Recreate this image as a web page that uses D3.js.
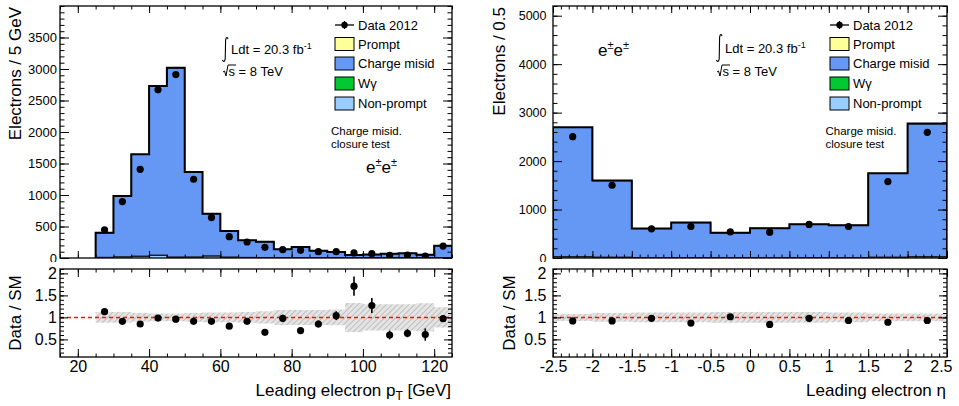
<!DOCTYPE html>
<html><head><meta charset="utf-8">
<script src="https://cdn.jsdelivr.net/npm/d3@7"></script>
<style>
body{margin:0;background:#fff}
svg{display:block}
text{font-family:"Liberation Sans",Arial,Helvetica,sans-serif;fill:#000}
</style>
</head><body>
<svg id="c" width="959" height="406"></svg>
<script>
// ---------------- DATA ----------------
// Leading electron pT (GeV), bins of 5 GeV (lower edges)
const ptBins = [25,30,35,40,45,50,55,60,65,70,75,80,85,90,95,100,105,110,115,120];
const ptNonPrompt   = [8,15,25,40,10,12,30,12,8,6,5,5,4,4,3,3,3,3,3,5];
const ptWgamma      = [3,4,5,6,6,4,3,2,2,2,1,1,1,1,1,1,1,1,1,2];
const ptChargeMisid = [387,963,1613,2681,2997,1347,669,413,270,250,131,168,110,89,42,49,64,69,47,187];
const ptPrompt      = [2,3,4,5,5,3,2,2,1,1,1,1,1,1,1,1,1,1,1,2];
const ptData        = [445,895,1408,2669,2912,1250,641,339,254,169,132,122,101,101,80,68,42,48,32,190];
const ptRatio       = [1.13,0.91,0.85,0.985,0.96,0.91,0.91,0.80,0.91,0.66,0.98,0.70,0.85,1.04,1.71,1.27,0.60,0.64,0.61,0.97];
const ptRatioErr    = [0.03,0.03,0.025,0.02,0.02,0.03,0.04,0.05,0.05,0.05,0.08,0.06,0.08,0.10,0.22,0.17,0.10,0.09,0.14,0.06];
const ptBandErr     = [0.12,0.12,0.10,0.09,0.09,0.10,0.11,0.11,0.12,0.14,0.17,0.17,0.17,0.18,0.33,0.30,0.30,0.30,0.32,0.23];

// Leading electron eta, bins of 0.5 (lower edges)
const etaBins = [-2.5,-2,-1.5,-1,-0.5,0,0.5,1,1.5,2];
const etaNonPrompt   = [20,12,6,6,5,5,6,6,12,20];
const etaWgamma      = [10,6,3,3,3,3,3,3,6,10];
const etaChargeMisid = [2662,1575,597,718,509,606,686,666,1727,2735];
const etaPrompt      = [8,5,3,3,2,2,3,3,5,8];
const etaData        = [2504,1501,602,650,539,533,692,650,1577,2594];
const etaRatio       = [0.92,0.92,0.98,0.87,1.015,0.84,0.98,0.93,0.89,0.93];
const etaRatioErr    = [0.02,0.025,0.04,0.04,0.04,0.04,0.04,0.04,0.025,0.02];
const etaBandErr     = [0.08,0.10,0.11,0.11,0.12,0.12,0.12,0.11,0.09,0.09];

const legendLabels = ["Data 2012","Prompt","Charge misid","W\u03b3","Non-prompt"];
const sampleColors = {prompt:"#ffff99", misid:"#6597f5", wgamma:"#00c832", nonprompt:"#99ccff"};

// ---------------- DRAW ----------------
const svg = d3.select("#c");
const defs = svg.append("defs");
const pat = defs.append("pattern").attr("id","hatch").attr("patternUnits","userSpaceOnUse")
  .attr("width",4).attr("height",4).attr("patternTransform","rotate(45)");
pat.append("rect").attr("width",4).attr("height",4).attr("fill","#e4e4e4");
pat.append("line").attr("x1",0).attr("y1",0).attr("x2",0).attr("y2",4).attr("stroke","#9a9a9a").attr("stroke-width",1);

const hyphenFmt = f => (v => f(v).replace("\u2212","-"));

function inwardAxis(g, axisFn, scale, majors, minors, majLen, minLen, fmt, pad, fontSize) {
  const a = g.append("g");
  a.call(axisFn(scale).tickValues(minors).tickSize(-minLen).tickFormat(""));
  a.append("g").call(axisFn(scale).tickValues(majors).tickSize(-majLen).tickPadding(pad).tickFormat(fmt || ""));
  a.selectAll(".domain").remove();
  a.selectAll("line").attr("stroke","#000").attr("stroke-width",1);
  a.selectAll("text").attr("font-size",fontSize).attr("font-family","Liberation Sans, Arial, sans-serif").attr("fill","#000");
  return a;
}

function range(a,b,s){const r=[];for(let v=a;v<=b+1e-9;v+=s)r.push(+v.toFixed(6));return r;}

function drawPanel(cfg) {
  const g = svg.append("g");
  const x = d3.scaleLinear().domain(cfg.xDomain).range([cfg.x0, cfg.x1]);
  const y = d3.scaleLinear().domain(cfg.yDomain).range([cfg.yBot, cfg.yTop]);
  const yr = d3.scaleLinear().domain([0.1,2.1]).range([cfg.rBot, cfg.rTop]);
  const n = cfg.bins.length, w = cfg.w;

  const clipId = "clip"+cfg.id, clipR = "clipr"+cfg.id;
  defs.append("clipPath").attr("id",clipId).append("rect")
    .attr("x",cfg.x0).attr("y",cfg.yTop).attr("width",cfg.x1-cfg.x0).attr("height",cfg.yBot-cfg.yTop);
  defs.append("clipPath").attr("id",clipR).append("rect")
    .attr("x",cfg.x0).attr("y",cfg.rTop).attr("width",cfg.x1-cfg.x0).attr("height",cfg.rBot-cfg.rTop);

  // ---- stacked histogram ----
  const layers = [
    {v:cfg.nonprompt, c:sampleColors.nonprompt},
    {v:cfg.wgamma, c:sampleColors.wgamma},
    {v:cfg.misid, c:sampleColors.misid},
    {v:cfg.prompt, c:sampleColors.prompt}
  ];
  let cum = new Array(n).fill(0);
  const stacks = layers.map(L => {
    const lo = cum.slice(); cum = cum.map((c,i)=>c+L.v[i]);
    return {lo, hi:cum.slice(), c:L.c};
  });
  const hg = g.append("g").attr("clip-path",`url(#${clipId})`);
  const area = d3.area().x(d=>x(d.x)).y0(d=>y(d.lo)).y1(d=>y(d.hi)).curve(d3.curveStepAfter);
  const line = d3.line().x(d=>x(d.x)).y(d=>y(d.v)).curve(d3.curveStepAfter);
  const ptsOf = s => {
    const p = cfg.bins.map((b,i)=>({x:b, lo:s.lo[i], hi:s.hi[i]}));
    p.push({x:cfg.bins[n-1]+w, lo:s.lo[n-1], hi:s.hi[n-1]});
    return p;
  };
  stacks.forEach(s => hg.append("path").attr("d",area(ptsOf(s))).attr("fill",s.c).attr("stroke","none"));
  stacks.forEach((s,k) => {
    const p = [{x:cfg.bins[0], v:0}].concat(cfg.bins.map((b,i)=>({x:b, v:s.hi[i]})));
    p.push({x:cfg.bins[n-1]+w, v:s.hi[n-1]});
    p.push({x:cfg.bins[n-1]+w, v:0});
    const top = k===stacks.length-1;
    hg.append("path").attr("d",line(p)).attr("fill","none")
      .attr("stroke", top ? "#000" : "#1a1a1a").attr("stroke-width", top ? 2 : 1);
  });
  // data points
  hg.selectAll("circle.d").data(cfg.data).join("circle")
    .attr("cx",(d,i)=>x(cfg.bins[i]+w/2)).attr("cy",d=>y(d)).attr("r",3.6).attr("fill","#000");

  // top frame axes
  inwardAxis(g, d3.axisBottom, x, cfg.xMajor, cfg.xMinor, 7, 3.5, null, 0, 1).attr("transform",`translate(0,${cfg.yBot})`);
  inwardAxis(g, d3.axisTop, x, cfg.xMajor, cfg.xMinor, 7, 3.5, null, 0, 1).attr("transform",`translate(0,${cfg.yTop})`);
  inwardAxis(g, d3.axisLeft, y, cfg.yMajor, cfg.yMinor, 9, 4.5, d3.format("d"), cfg.yPad, cfg.yFont).attr("transform",`translate(${cfg.x0},0)`);
  inwardAxis(g, d3.axisRight, y, cfg.yMajor, cfg.yMinor, 9, 4.5, null, 0, 1).attr("transform",`translate(${cfg.x1},0)`);
  g.append("rect").attr("x",cfg.x0).attr("y",cfg.yTop).attr("width",cfg.x1-cfg.x0).attr("height",cfg.yBot-cfg.yTop)
    .attr("fill","none").attr("stroke","#000").attr("stroke-width",1.3);

  // white ratio pad background (covers bottom of "0" label)
  g.append("rect").attr("x",cfg.padX0).attr("y",262).attr("width",cfg.padX1-cfg.padX0).attr("height",406-262).attr("fill","#fff");

  // ---- ratio panel ----
  const rg = g.append("g").attr("clip-path",`url(#${clipR})`);
  const bandPts = cfg.bins.map((b,i)=>({x:b, lo:1-cfg.band[i], hi:1+cfg.band[i]}));
  bandPts.push({x:cfg.bins[n-1]+w, lo:1-cfg.band[n-1], hi:1+cfg.band[n-1]});
  rg.append("path").attr("d", d3.area().x(d=>x(d.x)).y0(d=>yr(d.lo)).y1(d=>yr(d.hi)).curve(d3.curveStepAfter)(bandPts))
    .attr("fill","url(#hatch)");
  rg.append("line").attr("x1",cfg.x0).attr("x2",cfg.x1).attr("y1",yr(1)).attr("y2",yr(1))
    .attr("stroke","#ff1010").attr("stroke-width",1.5).attr("stroke-dasharray","4,3");
  rg.selectAll("line.e").data(cfg.ratio).join("line").attr("class","e")
    .attr("x1",(d,i)=>x(cfg.bins[i]+w/2)).attr("x2",(d,i)=>x(cfg.bins[i]+w/2))
    .attr("y1",(d,i)=>yr(d-cfg.ratioErr[i])).attr("y2",(d,i)=>yr(d+cfg.ratioErr[i]))
    .attr("stroke","#000").attr("stroke-width",1.6);
  rg.selectAll("circle.r").data(cfg.ratio).join("circle").attr("class","r")
    .attr("cx",(d,i)=>x(cfg.bins[i]+w/2)).attr("cy",d=>yr(d)).attr("r",3.6).attr("fill","#000");

  const ax = inwardAxis(g, d3.axisBottom, x, cfg.xMajor, cfg.xMinor, 8, 3.5, cfg.xFmt, 4, 16).attr("transform",`translate(0,${cfg.rBot})`);
  if (cfg.lastLabelEnd) {
    const ts = ax.selectAll("text").nodes();
    const last = d3.select(ts[ts.length-1]);
    last.attr("text-anchor","end").attr("x", cfg.lastLabelEnd - (x(cfg.xMajor[cfg.xMajor.length-1])));
  }
  inwardAxis(g, d3.axisTop, x, cfg.xMajor, cfg.xMinor, 8, 3.5, null, 0, 1).attr("transform",`translate(0,${cfg.rTop})`);
  const rMaj=[0.5,1,1.5,2], rMin=range(0.2,2.1,0.1);
  inwardAxis(g, d3.axisLeft, yr, rMaj, rMin, 8, 4, d3.format("~g"), cfg.yPad, 16).attr("transform",`translate(${cfg.x0},0)`);
  inwardAxis(g, d3.axisRight, yr, rMaj, rMin, 8, 4, null, 0, 1).attr("transform",`translate(${cfg.x1},0)`);
  g.append("rect").attr("x",cfg.x0).attr("y",cfg.rTop).attr("width",cfg.x1-cfg.x0).attr("height",cfg.rBot-cfg.rTop)
    .attr("fill","none").attr("stroke","#000").attr("stroke-width",1.3);

  // ---- axis titles ----
  g.append("text").attr("transform",`translate(${cfg.yTitleX},${cfg.yTop+1}) rotate(-90)`)
    .attr("text-anchor","end").attr("dominant-baseline","central").attr("font-size",17).text(cfg.yTitle);
  g.append("text").attr("transform",`translate(${cfg.rTitleX},${(cfg.rTop+cfg.rBot)/2}) rotate(-90)`)
    .attr("text-anchor","middle").attr("dominant-baseline","central").attr("font-size",17).text("Data / SM");
  const xt = g.append("text").attr("x",cfg.x1-1).attr("y",396).attr("text-anchor","end").attr("font-size",17);
  cfg.xTitle(xt);

  // ---- legend ----
  const lx = cfg.legX, rows = [25,44,63.5,83.5,103.5];
  const lg = g.append("g");
  lg.append("line").attr("x1",lx).attr("x2",lx+19).attr("y1",rows[0]).attr("y2",rows[0]).attr("stroke","#000").attr("stroke-width",1.3);
  lg.append("line").attr("x1",lx+9.5).attr("x2",lx+9.5).attr("y1",rows[0]-4).attr("y2",rows[0]+4).attr("stroke","#000").attr("stroke-width",1.3);
  lg.append("circle").attr("cx",lx+9.5).attr("cy",rows[0]).attr("r",3.2).attr("fill","#000");
  const boxCols = [sampleColors.prompt, sampleColors.misid, sampleColors.wgamma, sampleColors.nonprompt];
  boxCols.forEach((c,i)=>{
    lg.append("rect").attr("x",lx).attr("y",rows[i+1]-6.5).attr("width",19).attr("height",13)
      .attr("fill",c).attr("stroke","#000").attr("stroke-width",1);
  });
  legendLabels.forEach((t,i)=>{
    lg.append("text").attr("x",lx+23).attr("y",rows[i]+4.7).attr("font-size",13).text(t);
  });

  // ---- luminosity ----
  const ix = cfg.intX, iy = cfg.intY;
  g.append("path").attr("d",`M${ix+6},${iy+2} Q${ix+5.5},${iy} ${ix+4.2},${iy+1} L${ix+3.6},${iy+3} L${ix+3.2},${iy+cfg.intH-3} L${ix+2.6},${iy+cfg.intH-1} Q${ix+1.4},${iy+cfg.intH} ${ix+0.4},${iy+cfg.intH-2}`)
    .attr("fill","none").attr("stroke","#000").attr("stroke-width",1.1);
  const lt = g.append("text").attr("x",ix+9).attr("y",cfg.lumiY).attr("font-size",13);
  lt.append("tspan").text("Ldt = 20.3 fb");
  lt.append("tspan").attr("font-size",9).attr("dy",-5).text("-1");
  const sx = cfg.sqrtX, sy = cfg.sqrtY;
  g.append("path").attr("d",`M${sx},${sy-4} L${sx+1.5},${sy-5} L${sx+3},${sy} L${sx+5},${sy-11} L${sx+13},${sy-11}`)
    .attr("fill","none").attr("stroke","#000").attr("stroke-width",1);
  g.append("text").attr("x",sx+5.5).attr("y",sy).attr("font-size",13).text("s = 8 TeV");

  // ---- labels ----
  g.append("text").attr("x",cfg.cmX).attr("y",cfg.cmY).attr("font-size",11.5).text("Charge misid.");
  g.append("text").attr("x",cfg.cmX).attr("y",cfg.cmY+13.4).attr("font-size",11.5).text("closure test");
  const ee = g.append("text").attr("x",cfg.eeX).attr("y",cfg.eeY).attr("font-size",17);
  ee.append("tspan").text("e");
  ee.append("tspan").attr("font-size",11).attr("dy",-7).text("\u00b1");
  ee.append("tspan").attr("dy",7).text("e");
  ee.append("tspan").attr("font-size",11).attr("dy",-7).text("\u00b1");
}

drawPanel({
  id:"L", padX0:0, padX1:479,
  x0:60, x1:452, yTop:6, yBot:258, rTop:269, rBot:357,
  xDomain:[15,125], yDomain:[0,4000], w:5,
  bins:ptBins, nonprompt:ptNonPrompt, wgamma:ptWgamma, misid:ptChargeMisid, prompt:ptPrompt,
  data:ptData, ratio:ptRatio, ratioErr:ptRatioErr, band:ptBandErr,
  xMajor:[20,40,60,80,100,120], xMinor:range(15,125,5), xFmt:d3.format("d"),
  yMajor:range(0,3500,500), yMinor:range(0,4000,100), yPad:3, yFont:13,
  yTitle:"Electrons / 5 GeV", yTitleX:15, rTitleX:15,
  xTitle:t=>{t.append("tspan").text("Leading electron p");t.append("tspan").attr("font-size",12).attr("dy",4).text("T");t.append("tspan").attr("dy",-4).text(" [GeV]");},
  legX:335, intX:222, intY:37, intH:25, lumiY:54, sqrtX:223, sqrtY:76,
  cmX:331, cmY:134.5, eeX:366, eeY:173
});

drawPanel({
  id:"R", padX0:479, padX1:959,
  x0:553, x1:947, yTop:6, yBot:258, rTop:269, rBot:357,
  xDomain:[-2.5,2.5], yDomain:[0,5200], w:0.5,
  bins:etaBins, nonprompt:etaNonPrompt, wgamma:etaWgamma, misid:etaChargeMisid, prompt:etaPrompt,
  data:etaData, ratio:etaRatio, ratioErr:etaRatioErr, band:etaBandErr,
  xMajor:range(-2.5,2.5,0.5), xMinor:range(-2.5,2.5,0.1), xFmt:hyphenFmt(d3.format("~g")), lastLabelEnd:952,
  yMajor:range(0,5000,1000), yMinor:range(0,5200,200), yPad:6.5, yFont:12.5,
  yTitle:"Electrons / 0.5", yTitleX:499, rTitleX:509,
  xTitle:t=>{t.text("Leading electron \u03b7");},
  legX:830, intX:716, intY:34, intH:28, lumiY:53, sqrtX:717, sqrtY:76,
  cmX:825.5, cmY:134.5, eeX:598, eeY:56
});
</script>
</body></html>
